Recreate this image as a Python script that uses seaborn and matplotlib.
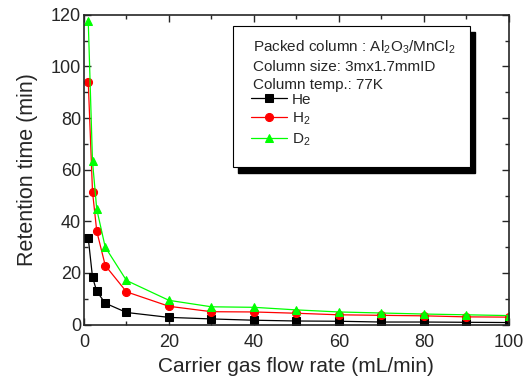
import seaborn as sns
import matplotlib.pyplot as plt
import pandas as pd
from matplotlib.patches import Rectangle
from matplotlib.ticker import MultipleLocator

flow = [1, 2, 3, 5, 10, 20, 30, 40, 50, 60, 70, 80, 90, 100]
he = [33.5, 18.4, 12.9, 8.3, 4.7, 2.8, 2.2, 1.7, 1.4, 1.3, 1.0, 1.0, 0.9, 0.8]
h2 = [94.0, 51.5, 36.2, 22.9, 12.7, 7.1, 5.0, 4.9, 4.4, 3.8, 3.6, 3.4, 3.0, 2.9]
d2 = [117.5, 63.2, 44.7, 30.0, 17.1, 9.4, 6.9, 6.7, 5.7, 4.9, 4.5, 4.1, 3.8, 3.5]

series = {'He': (he, 'black', 's', 5.2), 'H$_2$': (h2, '#ff0000', 'o', 5.8),
          'D$_2$': (d2, '#00ff00', '^', 6.3)}

sns.set_style('ticks')
plt.rcParams['font.family'] = ['Liberation Sans', 'DejaVu Sans']
plt.rcParams['mathtext.fontset'] = 'custom'
plt.rcParams['mathtext.rm'] = 'Liberation Sans'
plt.rcParams['mathtext.it'] = 'Liberation Sans'

fig = plt.figure(figsize=(5.3, 3.81), dpi=100)
ax = fig.add_axes([0.1585, 0.148, 0.8015, 0.813])

for name, (vals, col, mk, ms) in series.items():
    df = pd.DataFrame({'x': flow, 'y': vals})
    sns.lineplot(data=df, x='x', y='y', ax=ax, color=col, marker=mk, markersize=ms,
                 markeredgecolor=col, linewidth=0.9, label=name)

ax.set_xlim(0, 100)
ax.set_ylim(0, 120)
ax.xaxis.set_major_locator(MultipleLocator(20))
ax.xaxis.set_minor_locator(MultipleLocator(10))
ax.yaxis.set_major_locator(MultipleLocator(20))
ax.yaxis.set_minor_locator(MultipleLocator(10))
ax.tick_params(which='both', direction='in', top=True, right=True, labelsize=13, width=1)
ax.tick_params(which='major', length=5)
ax.tick_params(which='minor', length=3)
ax.tick_params(axis='x', pad=7)
ax.tick_params(axis='y', pad=2)
for s in ax.spines.values():
    s.set_linewidth(1.2)
ax.set_xlabel('Carrier gas flow rate (mL/min)', fontsize=15, labelpad=4)
ax.set_ylabel('Retention time (min)', fontsize=15.5, labelpad=9)

# annotation box with drop shadow
bx0, by0, bw, bh = 0.351, 0.509, 0.557, 0.455
ax.add_patch(Rectangle((bx0 + 0.012, by0 - 0.018), bw, bh, transform=ax.transAxes,
                       facecolor='black', edgecolor='black', zorder=4))
ax.add_patch(Rectangle((bx0, by0), bw, bh, transform=ax.transAxes,
                       facecolor='white', edgecolor='black', linewidth=0.8, zorder=5))
lines = ['Packed column : Al$_2$O$_3$/MnCl$_2$', 'Column size: 3mx1.7mmID', 'Column temp.: 77K']
for i, t in enumerate(lines):
    ax.text(bx0 + 0.047, [0.895, 0.833, 0.774][i], t, transform=ax.transAxes,
            fontsize=11, va='center', zorder=6)

leg = ax.legend(loc='upper left', bbox_to_anchor=(bx0 + 0.043, 0.749),
                frameon=False, fontsize=11, handlelength=2.35, handletextpad=0.3,
                labelspacing=0.27, borderpad=0.0, borderaxespad=0.0)
leg.set_zorder(7)

fig.savefig('out.png', dpi=100)
